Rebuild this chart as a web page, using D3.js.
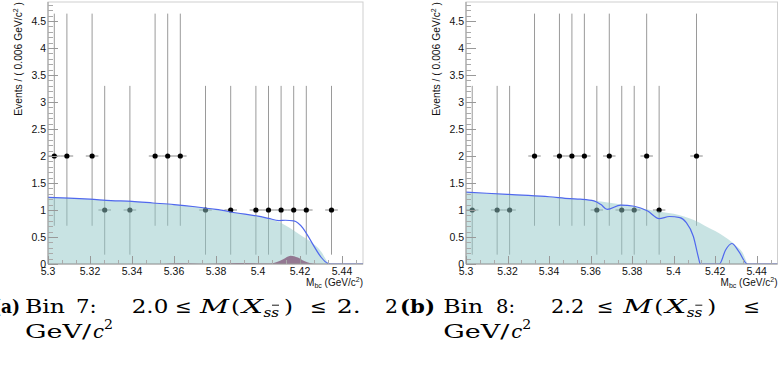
<!DOCTYPE html>
<html><head><meta charset="utf-8">
<script src="https://cdn.jsdelivr.net/npm/d3@7"></script>
<style>body{margin:0;background:#fff}svg{display:block}</style>
</head><body>
<script>
// ---------- data ----------
const xTickValues = [5.30, 5.32, 5.34, 5.36, 5.38, 5.40, 5.42, 5.44];
const yTickValues = [0, 0.5, 1, 1.5, 2, 2.5, 3, 3.5, 4, 4.5];

// Panel (a): Bin 7
const aX   = [5.303, 5.309, 5.321, 5.327, 5.339, 5.351, 5.357, 5.363, 5.375, 5.387, 5.399, 5.405, 5.411, 5.417, 5.423, 5.435];
const aN   = [2, 2, 2, 1, 1, 2, 2, 2, 1, 1, 1, 1, 1, 1, 1, 1];
const aErrLo = [1.292, 1.292, 1.292, 0.827, 0.827, 1.292, 1.292, 1.292, 0.827, 0.827, 0.827, 0.827, 0.827, 0.827, 0.827, 0.827];
const aErrHi = [2.637, 2.637, 2.637, 2.299, 2.299, 2.637, 2.637, 2.637, 2.299, 2.299, 2.299, 2.299, 2.299, 2.299, 2.299, 2.299];
const aTotX = [5.300, 5.310, 5.320, 5.330, 5.340, 5.350, 5.360, 5.370, 5.380, 5.390, 5.400, 5.405, 5.410, 5.413, 5.417, 5.4345, 5.450];
const aTotY = [1.235, 1.22, 1.20, 1.175, 1.16, 1.13, 1.10, 1.06, 1.01, 0.945, 0.885, 0.845, 0.805, 0.81, 0.80, 0.0, 0.0];
const aBkgX = [5.300, 5.310, 5.320, 5.330, 5.340, 5.350, 5.360, 5.370, 5.380, 5.390, 5.400, 5.405, 5.410, 5.415, 5.420, 5.425, 5.430, 5.4335];
const aBkgY = [1.235, 1.22, 1.20, 1.175, 1.16, 1.13, 1.10, 1.06, 1.01, 0.945, 0.885, 0.84, 0.78, 0.67, 0.54, 0.41, 0.23, 0.0];
const aSigX = [5.355, 5.362, 5.368, 5.375, 5.382, 5.390, 5.398, 5.403, 5.406, 5.409, 5.412, 5.4155, 5.419, 5.422, 5.425, 5.428];
const aSigY = [0.0, 0.015, 0.01, 0.0, 0.01, 0.02, 0.015, 0.01, 0.01, 0.035, 0.09, 0.155, 0.12, 0.055, 0.012, 0.0];

// Panel (b): Bin 8
const bX   = [5.303, 5.315, 5.321, 5.333, 5.345, 5.351, 5.357, 5.363, 5.369, 5.375, 5.381, 5.387, 5.393, 5.411];
const bN   = [1, 1, 1, 2, 2, 2, 2, 1, 2, 1, 1, 2, 1, 2];
const bErrLo = [0.827, 0.827, 0.827, 1.292, 1.292, 1.292, 1.292, 0.827, 1.292, 0.827, 0.827, 1.292, 0.827, 1.292];
const bErrHi = [2.299, 2.299, 2.299, 2.637, 2.637, 2.637, 2.637, 2.299, 2.637, 2.299, 2.299, 2.637, 2.299, 2.637];
const bTotX = [5.300, 5.310, 5.320, 5.330, 5.340, 5.350, 5.355, 5.3616, 5.365, 5.368, 5.3745, 5.381, 5.3875, 5.393, 5.398, 5.403, 5.406, 5.4095, 5.412, 5.4128, 5.422, 5.425, 5.428, 5.4314, 5.4355, 5.450];
const bTotY = [1.33, 1.31, 1.29, 1.27, 1.245, 1.21, 1.20, 1.17, 1.10, 1.01, 1.09, 1.07, 0.98, 0.84, 0.88, 0.86, 0.77, 0.51, 0.11, 0.0, 0.0, 0.26, 0.38, 0.23, 0.0, 0.0];
const bBkgX = [5.300, 5.320, 5.340, 5.360, 5.370, 5.380, 5.390, 5.395, 5.400, 5.405, 5.410, 5.415, 5.420, 5.425, 5.430, 5.433, 5.4355];
const bBkgY = [1.33, 1.29, 1.245, 1.18, 1.13, 1.07, 0.99, 0.96, 0.93, 0.88, 0.81, 0.71, 0.61, 0.49, 0.34, 0.22, 0.0];

// ---------- layout ----------
const W = 779, H = 376;
const svg = d3.select("body").append("svg").attr("width", W).attr("height", H)
  .style("font-family", "'Liberation Sans', Arial, sans-serif");
svg.append("rect").attr("width", W).attr("height", H).attr("fill", "#fff");

const yTop = 2, yBot = 264;
const FILL = "rgb(146,200,200)";
const BLUE = "#5068ee";

function panel(id, x0, x1, d) {
  const g = svg.append("g");
  const x = d3.scaleLinear().domain([5.30, 5.45]).range([x0, x1]);
  const y = d3.scaleLinear().domain([0, 4.852]).range([yBot, yTop]);
  const clipId = "clip" + id;
  svg.append("clipPath").attr("id", clipId).append("rect")
    .attr("x", x0).attr("y", yTop).attr("width", x1 - x0).attr("height", yBot - yTop);

  // frame
  g.append("rect").attr("x", x0).attr("y", yTop).attr("width", x1 - x0).attr("height", yBot - yTop)
    .attr("fill", "none").attr("stroke", "#cfcfcf").attr("stroke-width", 1);

  // data points with error bars
  const pts = d.px.map((v, i) => ({x: v, n: d.n[i], lo: d.lo[i], hi: d.hi[i]}));
  const pg = g.append("g").attr("clip-path", `url(#${clipId})`);
  pg.selectAll("line.v").data(pts).join("line")
    .attr("x1", p => x(p.x)).attr("x2", p => x(p.x))
    .attr("y1", p => y(p.n - p.lo)).attr("y2", p => y(p.n + p.hi))
    .attr("stroke", "#9a9a9a").attr("stroke-width", 1);
  pg.selectAll("line.h").data(pts).join("line")
    .attr("x1", p => x(p.x - 0.003)).attr("x2", p => x(p.x + 0.003))
    .attr("y1", p => y(p.n)).attr("y2", p => y(p.n))
    .attr("stroke", "#8a8a8a").attr("stroke-width", 1);
  pg.selectAll("circle").data(pts).join("circle")
    .attr("cx", p => x(p.x)).attr("cy", p => y(p.n)).attr("r", 2.6).attr("fill", "#000");

  // background fill (semi-transparent, over points)
  const bkg = d.bx.map((v, i) => [v, d.by[i]]);
  const area = d3.area().x(p => x(p[0])).y0(y(0)).y1(p => y(p[1])).curve(d3.curveMonotoneX);
  g.append("path").datum(bkg).attr("d", area).attr("fill", FILL).attr("fill-opacity", 0.5)
    .attr("clip-path", `url(#${clipId})`);

  // signal component
  if (d.sx) {
    const sig = d.sx.map((v, i) => [v, d.sy[i]]);
    g.append("path").datum(sig).attr("d", area).attr("fill", "#8d6b88").attr("fill-opacity", 0.9)
      .attr("clip-path", `url(#${clipId})`);
  }

  // total curve
  const tot = d.tx.map((v, i) => [v, d.ty[i]]);
  const line = d3.line().x(p => x(p[0])).y(p => y(p[1])).curve(d3.curveMonotoneX);
  g.append("path").datum(tot).attr("d", line).attr("fill", "none")
    .attr("stroke", BLUE).attr("stroke-width", 1.2).attr("clip-path", `url(#${clipId})`);

  // axes: ticks drawn inside
  const ax = g.append("g");
  ax.append("line").attr("x1", x0).attr("x2", x0).attr("y1", yTop).attr("y2", yBot).attr("stroke", "#999");
  ax.append("line").attr("x1", x0).attr("x2", x1).attr("y1", yBot).attr("y2", yBot).attr("stroke", "#999");
  // y minor ticks every 0.1
  const yMinor = d3.range(0, 4.85, 0.1);
  ax.selectAll("line.ym").data(yMinor).join("line")
    .attr("x1", x0).attr("x2", x0 + 5).attr("y1", v => Math.round(y(v)) + 0.5).attr("y2", v => Math.round(y(v)) + 0.5)
    .attr("stroke", "#aaa");
  ax.selectAll("line.yM").data(yTickValues).join("line")
    .attr("x1", x0).attr("x2", x0 + 10).attr("y1", v => Math.round(y(v)) + 0.5).attr("y2", v => Math.round(y(v)) + 0.5)
    .attr("stroke", "#999");
  ax.selectAll("text.yl").data(yTickValues).join("text")
    .attr("x", x0 - 2).attr("y", v => y(v) + 3.5).attr("text-anchor", "end")
    .attr("font-size", 10.5).attr("fill", "#111").text(v => d3.format("~g")(v));
  // x ticks
  const xMinor = d3.range(5.30, 5.4501, 0.02 / 3);
  ax.selectAll("line.xm").data(xMinor).join("line")
    .attr("x1", v => Math.round(x(v)) + 0.5).attr("x2", v => Math.round(x(v)) + 0.5)
    .attr("y1", yBot).attr("y2", yBot - 4).attr("stroke", "#aaa");
  ax.selectAll("line.xM").data(xTickValues).join("line")
    .attr("x1", v => Math.round(x(v)) + 0.5).attr("x2", v => Math.round(x(v)) + 0.5)
    .attr("y1", yBot).attr("y2", yBot - 8).attr("stroke", "#999");
  ax.selectAll("text.xl").data(xTickValues).join("text")
    .attr("x", v => x(v)).attr("y", 275).attr("text-anchor", "middle")
    .attr("font-size", 10.5).attr("fill", "#111").text(v => d3.format("~g")(v));

  // x title
  const xt = g.append("text").attr("x", x1).attr("y", 285.5).attr("text-anchor", "end")
    .attr("font-size", 10).attr("fill", "#111");
  xt.append("tspan").text("M");
  xt.append("tspan").attr("font-size", 7).attr("dy", 2).text("bc");
  xt.append("tspan").attr("dy", -2).text(" (GeV/c");
  xt.append("tspan").attr("font-size", 7).attr("dy", -4).text("2");
  xt.append("tspan").attr("dy", 4).text(")");

  // y title
  const yt = g.append("text").attr("transform", `translate(${x0 - 26.5},${yTop}) rotate(-90)`)
    .attr("text-anchor", "end").attr("font-size", 10.3).attr("fill", "#111");
  yt.append("tspan").text("Events / ( 0.006 GeV/c");
  yt.append("tspan").attr("font-size", 7).attr("dy", -4).text("2");
  yt.append("tspan").attr("dy", 4).text(" )");
}

panel("a", 48, 363, {px: aX, n: aN, lo: aErrLo, hi: aErrHi, tx: aTotX, ty: aTotY, bx: aBkgX, by: aBkgY, sx: aSigX, sy: aSigY});
panel("b", 466, 777.5, {px: bX, n: bN, lo: bErrLo, hi: bErrHi, tx: bTotX, ty: bTotY, bx: bBkgX, by: bBkgY});

// ---------- captions ----------
const cap = svg.append("g").style("font-family", "'DejaVu Serif', 'Liberation Serif', serif").attr("fill", "#000");
const FS = 18.5, L1 = 312.7, L2 = 338.3;
function word(t, x, w, opts = {}) {
  const e = cap.append("text").attr("x", x).attr("y", opts.y || L1).attr("font-size", opts.fs || FS).text(t);
  if (w) e.attr("textLength", w).attr("lengthAdjust", opts.adjust || "spacingAndGlyphs");
  if (opts.bold) e.attr("font-weight", "bold");
  if (opts.italic) e.attr("font-style", "italic");
  return e;
}
function mxss(x0) {
  word("M", x0, 29, {italic: true});
  word("(", x0 + 31, 9);
  word("X", x0 + 42, 21, {italic: true});
  word("ss", x0 + 63.5, 15.5, {italic: true, fs: 13, y: L1 + 4});
  cap.append("line").attr("x1", x0 + 72).attr("x2", x0 + 79).attr("y1", L1 - 7.5).attr("y2", L1 - 7.5)
    .attr("stroke", "#000").attr("stroke-width", 0.9);
  word(")", x0 + 84, 9);
}
function gev(x0) {
  word("GeV/", x0, 66, {y: L2});
  word("c", x0 + 68, 11, {italic: true, y: L2});
  word("2", x0 + 79, 9, {y: L2 - 9, fs: 13});
}
// (a)
word("(a)", -7, 27, {bold: true});
word("Bin", 25, 40);
word("7:", 76, 20.7);
word("2.0", 131.7, 36.6);
word("≤", 175, 16.7);
mxss(200);
word("≤", 310, 16.7);
word("2.", 336.7, 24);
word("2", 385, 13);
gev(25);
// (b)
word("(b)", 400, 35, {bold: true});
word("Bin", 443.3, 40);
word("8:", 496, 19);
word("2.2", 551, 33.3);
word("≤", 596.7, 16.7);
mxss(623.3);
word("≤", 743.3, 16.7);
gev(443.3);
</script>
</body></html>
